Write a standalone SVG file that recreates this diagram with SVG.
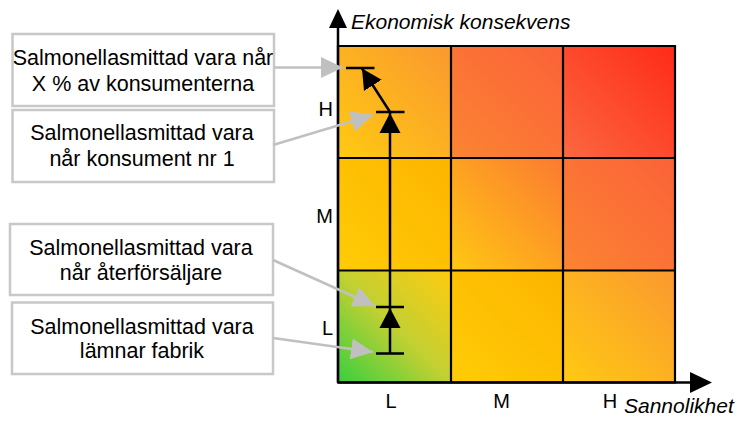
<svg xmlns="http://www.w3.org/2000/svg" width="738" height="421" viewBox="0 0 738 421">
  <style>
    .txt { font-family: "Liberation Sans", Arial, sans-serif; font-size: 21.5px; fill: #000; }
    .ax { font-family: "Liberation Sans", Arial, sans-serif; font-size: 21px; font-style: italic; fill: #000; }
    .lvl { font-family: "Liberation Sans", Arial, sans-serif; font-size: 20px; fill: #000; }
    .box { fill: #fff; stroke: #c8c8c8; stroke-width: 2.5; }
    .grid { fill: none; stroke: #000; stroke-width: 2.2; }
    .axis { fill: none; stroke: #000; stroke-width: 2.5; }
    .call { fill: none; stroke: #c0c0c0; stroke-width: 2.5; marker-end: url(#grayHead); }
    .path { fill: none; stroke: #000; stroke-width: 2.5; }
    .bar { stroke: #000; stroke-width: 2.5; }
  </style>
  <defs>
    <linearGradient id="gYO" x1="0" y1="1" x2="1" y2="0">
      <stop offset="0" stop-color="#ffca12"/>
      <stop offset="1" stop-color="#fa9830"/>
    </linearGradient>
    <linearGradient id="gYY" x1="0" y1="1" x2="1" y2="0">
      <stop offset="0" stop-color="#ffcc06"/>
      <stop offset="1" stop-color="#fdb400"/>
    </linearGradient>
    <linearGradient id="gYR" x1="0" y1="1" x2="1" y2="0">
      <stop offset="0" stop-color="#ffc812"/>
      <stop offset="1" stop-color="#fb7a32"/>
    </linearGradient>
    <linearGradient id="gOO" x1="0" y1="1" x2="1" y2="0">
      <stop offset="0" stop-color="#fb8432"/>
      <stop offset="1" stop-color="#fb6238"/>
    </linearGradient>
    <linearGradient id="gRR" x1="0" y1="1" x2="1" y2="0">
      <stop offset="0" stop-color="#fb6840"/>
      <stop offset="1" stop-color="#ff2a18"/>
    </linearGradient>
    <linearGradient id="gGY" x1="0" y1="1" x2="1" y2="0">
      <stop offset="0" stop-color="#38cf40"/>
      <stop offset="0.5" stop-color="#c2d032"/>
      <stop offset="1" stop-color="#ffcc10"/>
    </linearGradient>
    <marker id="grayHead" markerUnits="userSpaceOnUse" markerWidth="22" markerHeight="22" refX="22" refY="10.5" orient="auto" viewBox="0 0 22 21">
      <path d="M0,0 L22,10.5 L0,21 Z" fill="#c0c0c0"/>
    </marker>
    <marker id="blackHead" markerUnits="userSpaceOnUse" markerWidth="21" markerHeight="22" refX="20" refY="10.5" orient="auto" viewBox="0 0 21 21">
      <path d="M0,0 L20,10.5 L0,21 Z" fill="#000"/>
    </marker>
  </defs>

  <!-- risk matrix cells -->
  <g id="matrix">
    <rect x="338" y="46" width="113" height="112" fill="url(#gYO)"/>
    <rect x="451" y="46" width="112" height="112" fill="url(#gOO)"/>
    <rect x="563" y="46" width="112" height="112" fill="url(#gRR)"/>
    <rect x="338" y="158" width="113" height="112.5" fill="url(#gYY)"/>
    <rect x="451" y="158" width="112" height="112.5" fill="url(#gYR)"/>
    <rect x="563" y="158" width="112" height="112.5" fill="url(#gOO)"/>
    <rect x="338" y="270.5" width="113" height="112" fill="url(#gGY)"/>
    <rect x="451" y="270.5" width="112" height="112" fill="url(#gYY)"/>
    <rect x="563" y="270.5" width="112" height="112" fill="url(#gYO)"/>
    <path class="grid" d="M338,46 H675 V382.5 H338 Z M451,46 V382.5 M563,46 V382.5 M338,158 H675 M338,270.5 H675"/>
  </g>

  <!-- axes -->
  <g id="axes">
    <path class="axis" d="M338,382.5 V26 M338,382.5 H692"/>
    <path d="M338,9 L347,28 L329,28 Z" fill="#000"/>
    <path d="M712,382.5 L690,372 L690,393 Z" fill="#000"/>
    <text class="ax" x="351" y="29">Ekonomisk konsekvens</text>
    <text class="ax" x="624" y="413">Sannolikhet</text>
    <text class="lvl" x="333" y="116" text-anchor="end">H</text>
    <text class="lvl" x="333" y="223" text-anchor="end">M</text>
    <text class="lvl" x="333" y="335" text-anchor="end">L</text>
    <text class="lvl" x="391" y="408" text-anchor="middle">L</text>
    <text class="lvl" x="501.5" y="408" text-anchor="middle">M</text>
    <text class="lvl" x="610" y="408" text-anchor="middle">H</text>
  </g>

  <!-- callout boxes -->
  <g id="box-consumers">
    <rect class="box" x="12.5" y="34" width="261.5" height="72"/>
    <text class="txt" x="143" y="65" text-anchor="middle">Salmonellasmittad vara når</text>
    <text class="txt" x="143" y="91" text-anchor="middle">X % av konsumenterna</text>
  </g>
  <g id="box-first-consumer">
    <rect class="box" x="12.5" y="110" width="261.5" height="72"/>
    <text class="txt" x="142" y="140" text-anchor="middle">Salmonellasmittad vara</text>
    <text class="txt" x="142" y="166" text-anchor="middle">når konsument nr 1</text>
  </g>
  <g id="box-retailer">
    <rect class="box" x="10" y="224" width="263" height="71"/>
    <text class="txt" x="141" y="255" text-anchor="middle">Salmonellasmittad vara</text>
    <text class="txt" x="141" y="280" text-anchor="middle">når återförsäljare</text>
  </g>
  <g id="box-factory">
    <rect class="box" x="12" y="302.5" width="261" height="71.5"/>
    <text class="txt" x="142" y="334" text-anchor="middle">Salmonellasmittad vara</text>
    <text class="txt" x="142" y="358" text-anchor="middle">lämnar fabrik</text>
  </g>

  <!-- connectors -->
  <g id="connectors">
    <path class="call" d="M274,67.5 L343,67.5"/>
    <path class="call" d="M273,145 L373,115"/>
    <path class="call" d="M273,260 L375,306"/>
    <path class="call" d="M273,338 L373,352"/>

    <path class="bar" d="M376,353.5 H404 M376,307 H404 M376,112 H404.5 M346,68 H374.5"/>
    <path class="path" d="M390,353.5 V308" marker-end="url(#blackHead)"/>
    <path class="path" d="M390,307 V113" marker-end="url(#blackHead)"/>
    <path class="path" d="M390,112 L362,68.5" marker-end="url(#blackHead)"/>
  </g>
</svg>
